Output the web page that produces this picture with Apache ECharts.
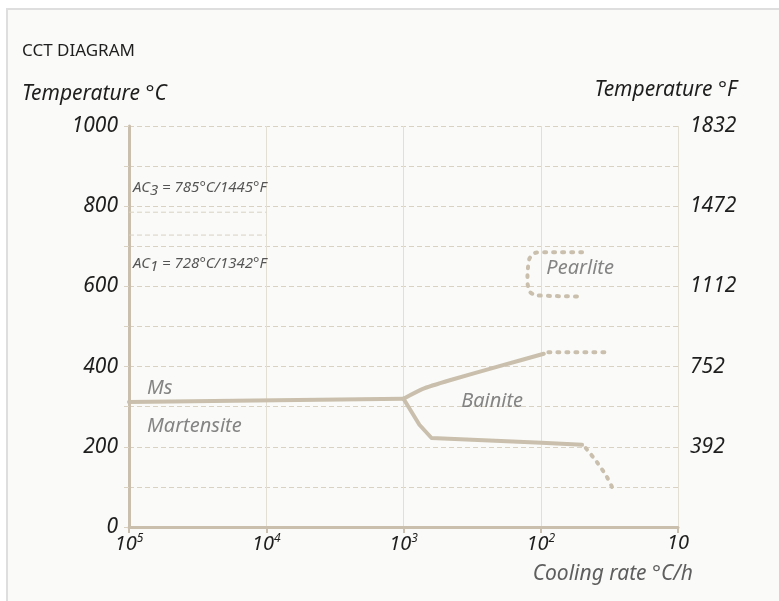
<!DOCTYPE html>
<html>
<head>
<meta charset="utf-8">
<script src="https://cdn.jsdelivr.net/npm/echarts@6/dist/echarts.min.js"></script>
<style>
  body { margin: 0; background: #ffffff; }
  .frame {
    position: absolute; left: 6px; top: 8px; width: 790px; height: 610px;
    border: 2px solid #dedede; background: #fafaf8;
  }
  #chart { position: absolute; left: 0; top: 0; width: 779px; height: 601px; }
</style>
</head>
<body>
<div class="frame"></div>
<div id="chart"></div>
<script>
// axis ticks
const rateTicks = [100000, 10000, 1000, 100, 10];
const celsiusTicks = [0, 200, 400, 600, 800, 1000];
const fahrenheitLabels = ['', '392', '752', '1112', '1472', '1832'];

// curves: [cooling rate °C/h, temperature °C]
const msLine = [[100000, 312], [1000, 320]];
const bainiteUpper = [[1000, 320], [730, 344], [460, 366], [200, 401], [95, 432]];
const bainiteUpperDotted = [[88, 436], [33, 436]];
const bainiteLower = [[1000, 320], [766, 255], [625, 222], [99, 210], [50, 205]];
const bainiteLowerDotted = [[47, 197], [39, 162], [33, 125], [30, 97]];
const pearliteDotted = [[50, 685], [103, 685], [117, 676], [123, 656], [125, 617], [123, 597], [117, 583], [99, 577], [51, 575]];

// transformation temperatures
const ac3 = 785;
const ac1 = 728;
const acRange = [100000, 10000];

// text annotations: [rate, temp, text]
const regionLabels = [
  [74000, 346, 'Ms'],
  [74000, 251, 'Martensite'],
  [380, 313, 'Bainite'],
  [91, 645, 'Pearlite']
];
const acLabels = [
  [93500, 845, 'AC{sub|3} = 785°C/1445°F'],
  [93500, 657, 'AC{sub|1} = 728°C/1342°F']
];

const lineColor = '#c9bfac';
const gridColor = '#d9d2c3';
const font = 'Noto Sans';

const chart = echarts.init(document.getElementById('chart'));

const dotted = {
  color: lineColor, width: 4, type: [2, 7], cap: 'round'
};
const solid = { color: lineColor, width: 4, cap: 'round', join: 'round' };

const option = {
  backgroundColor: 'transparent',
  animation: false,
  title: [
    { text: 'CCT DIAGRAM', left: 17, top: 38,
      textStyle: { fontFamily: font, fontSize: 17, fontWeight: 'normal', color: '#1e1e1e' } },
    { text: 'Temperature °C', left: 17, top: 79,
      textStyle: { fontFamily: font, fontSize: 21, fontWeight: 'normal', fontStyle: 'italic', color: '#1e1e1e' } },
    { text: 'Temperature °F', right: 37, top: 75,
      textStyle: { fontFamily: font, fontSize: 21, fontWeight: 'normal', fontStyle: 'italic', color: '#1e1e1e' } },
    { text: 'Cooling rate °C/h', right: 81, top: 559,
      textStyle: { fontFamily: font, fontSize: 21, fontWeight: 'normal', fontStyle: 'italic', color: '#5e5e5e' } }
  ],
  grid: { left: 129, right: 101, top: 126, bottom: 74 },
  xAxis: {
    type: 'log',
    logBase: 10,
    min: 10,
    max: 100000,
    inverse: true,
    axisLine: { show: true, lineStyle: { color: lineColor, width: 3 } },
    axisTick: { show: true, length: 6, lineStyle: { color: lineColor, width: 2 } },
    splitLine: { show: true, lineStyle: { color: '#e4dfd3', width: 1 } },
    axisLabel: {
      margin: 6,
      fontFamily: font,
      fontSize: 20,
      fontStyle: 'italic',
      color: '#1e1e1e',
      formatter: function (v) {
        const e = Math.round(Math.log10(v));
        if (rateTicks.indexOf(Math.pow(10, e)) < 0) return '';
        return e === 1 ? '10' : '10{sup|' + e + '}';
      },
      rich: {
        sup: { fontSize: 12, fontStyle: 'italic', fontFamily: font, color: '#1e1e1e', verticalAlign: 'top', padding: [0, 0, 10, 0] }
      }
    }
  },
  yAxis: [
    {
      type: 'value',
      min: 0,
      max: 1000,
      interval: 100,
      axisLine: { show: true, lineStyle: { color: lineColor, width: 3 } },
      axisTick: { show: true, length: 6, lineStyle: { color: gridColor, type: [5, 3] } },
      splitLine: { show: true, lineStyle: { color: gridColor, width: 1, type: [5, 3] } },
      axisLabel: {
        margin: 11,
        fontFamily: font,
        fontSize: 21,
        fontStyle: 'italic',
        color: '#1e1e1e',
        formatter: function (v) {
          return celsiusTicks.indexOf(v) >= 0 ? String(v) : '';
        }
      }
    },
    {
      type: 'value',
      min: 0,
      max: 1000,
      interval: 100,
      position: 'right',
      axisLine: { show: false },
      axisTick: { show: false },
      splitLine: { show: false },
      axisLabel: {
        margin: 12,
        fontFamily: font,
        fontSize: 21,
        fontStyle: 'italic',
        color: '#1e1e1e',
        formatter: function (v) {
          const i = celsiusTicks.indexOf(v);
          return i >= 0 ? fahrenheitLabels[i] : '';
        }
      }
    }
  ],
  series: [
    { type: 'line', data: [[acRange[0], ac3], [acRange[1], ac3]], symbol: 'none',
      lineStyle: { color: gridColor, width: 1, type: [5, 3] } },
    { type: 'line', data: [[acRange[0], ac1], [acRange[1], ac1]], symbol: 'none',
      lineStyle: { color: gridColor, width: 1, type: [5, 3] } },
    { type: 'line', data: msLine, symbol: 'none', lineStyle: solid },
    { type: 'line', data: bainiteUpper, symbol: 'none', smooth: 0.2, lineStyle: solid },
    { type: 'line', data: bainiteUpperDotted, symbol: 'none', lineStyle: dotted },
    { type: 'line', data: bainiteLower, symbol: 'none', lineStyle: solid },
    { type: 'line', data: bainiteLowerDotted, symbol: 'none', smooth: 0.3, lineStyle: dotted },
    { type: 'line', data: pearliteDotted, symbol: 'none', smooth: 0.5, lineStyle: dotted },
    {
      type: 'scatter', data: regionLabels, symbolSize: 0,
      label: {
        show: true, position: 'right', distance: 0,
        fontFamily: font, fontSize: 20, fontStyle: 'italic', color: '#666',
        formatter: function (p) { return p.data[2]; }
      }
    },
    {
      type: 'scatter', data: acLabels, symbolSize: 0,
      label: {
        show: true, position: 'right', distance: 0,
        fontFamily: font, fontSize: 15, fontStyle: 'italic', color: '#2a2a2a',
        formatter: function (p) { return p.data[2]; },
        rich: {
          sub: { fontFamily: font, fontSize: 15, fontStyle: 'italic', color: '#2a2a2a', padding: [6, 0, 0, 0] }
        }
      }
    }
  ]
};

chart.setOption(option);
</script>
</body>
</html>
